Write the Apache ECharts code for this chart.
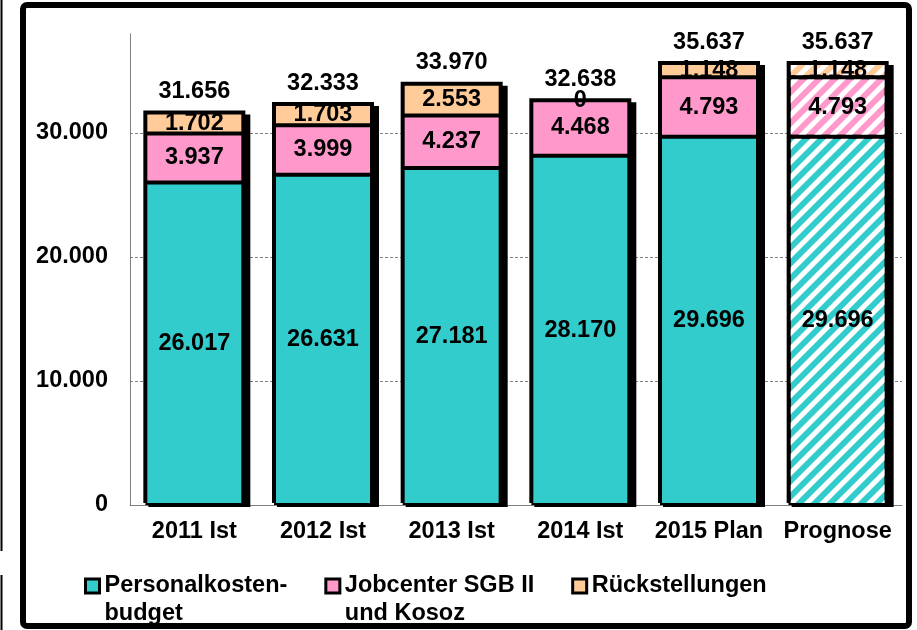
<!DOCTYPE html>
<html>
<head>
<meta charset="utf-8">
<script src="https://cdn.jsdelivr.net/npm/echarts@6/dist/echarts.min.js"></script>
<style>
  html, body { margin: 0; padding: 0; background: #fff; }
  #chart { width: 917px; height: 630px; }
</style>
</head>
<body>
<div id="chart"></div>
<script>
var categories = ['2011 Ist', '2012 Ist', '2013 Ist', '2014 Ist', '2015 Plan', 'Prognose'];
var personal = [26017, 26631, 27181, 28170, 29696, 29696];
var jobcenter = [3937, 3999, 4237, 4468, 4793, 4793];
var rueck = [1702, 1703, 2553, 0, 1148, 1148];
var totals = [31656, 32333, 33970, 32638, 35637, 35637];
var hatched = 5; // Prognose

var font = 'Liberation Sans, Arial, sans-serif';
var fs = 23.5;

function fmt(v) {
    return String(v).replace(/\B(?=(\d{3})+(?!\d))/g, '.');
}

var stripes = {
    symbol: 'rect',
    symbolSize: 1,
    dashArrayX: [1, 0],
    dashArrayY: [5, 6],
    rotation: -Math.PI / 4,
    color: '#ffffff'
};

function withHatch(arr) {
    return arr.map(function (v, i) {
        return i === hatched ? { value: v, itemStyle: { decal: stripes } } : v;
    });
}

var segLabel = {
    show: true,
    position: 'inside',
    color: '#000',
    fontFamily: font,
    fontWeight: 'bold',
    fontSize: fs,
    formatter: function (p) { return fmt(p.value); }
};

function barStyle(color) {
    return { color: color, borderColor: '#000', borderWidth: 2 };
}

var legendNames = {
    'Personalkosten-budget': ' \nPersonalkosten-\nbudget',
    'Jobcenter SGB II und Kosoz': ' \nJobcenter SGB II\nund Kosoz',
    'Rückstellungen': ' \nRückstellungen\n '
};

// hidden helper axes for the outline / drop shadow grids
function helperX(i) {
    return { type: 'category', gridIndex: i, data: categories, show: false };
}
function helperY(i) {
    return { type: 'value', gridIndex: i, min: 0, max: 38000, interval: 10000, show: false };
}

echarts.init(document.getElementById('chart')).setOption({
    animation: false,
    grid: [
        { left: 130, right: 15, top: 33.8, bottom: 125 },
        { left: 130, right: 15, top: 31.8, bottom: 127 },   // black outline, 2px up
        { left: 135, right: 10, top: 35.8, bottom: 123 }    // drop shadow
    ],
    legend: {
        data: ['Personalkosten-budget', 'Jobcenter SGB II und Kosoz', 'Rückstellungen'],
        left: 84,
        top: 544,
        padding: 0,
        itemGap: 37,
        itemWidth: 14,
        itemHeight: 14,
        icon: 'rect',
        itemStyle: { borderColor: '#000', borderWidth: 3 },
        formatter: function (name) { return legendNames[name]; },
        textStyle: {
            color: '#000',
            fontFamily: font,
            fontWeight: 'bold',
            fontSize: fs,
            lineHeight: 28
        }
    },
    xAxis: [
        {
            type: 'category',
            data: categories,
            axisLine: { lineStyle: { color: '#808080', width: 1 } },
            axisTick: { show: false },
            axisLabel: {
                interval: 0,
                color: '#000',
                fontFamily: font,
                fontWeight: 'bold',
                fontSize: fs,
                margin: 15
            }
        },
        helperX(1),
        helperX(2)
    ],
    yAxis: [
        {
            type: 'value',
            min: 0,
            max: 38000,
            interval: 10000,
            axisLine: { show: true, lineStyle: { color: '#808080', width: 1 } },
            axisTick: { show: false },
            axisLabel: {
                color: '#000',
                fontFamily: font,
                fontWeight: 'bold',
                fontSize: fs,
                margin: 22,
                showMaxLabel: false,
                formatter: function (v) { return fmt(v); }
            },
            splitLine: {
                show: true,
                showMaxLine: false,
                lineStyle: { color: '#808080', type: [3, 2], width: 1 }
            }
        },
        helperY(1),
        helperY(2)
    ],
    series: [
        {
            name: 'Rahmen',
            type: 'bar',
            xAxisIndex: 1,
            yAxisIndex: 1,
            z: 1,
            barWidth: 102,
            itemStyle: { color: '#000' },
            silent: true,
            data: totals
        },
        {
            name: 'Schatten',
            type: 'bar',
            xAxisIndex: 2,
            yAxisIndex: 2,
            z: 1,
            barWidth: 102,
            itemStyle: { color: '#000' },
            silent: true,
            data: totals
        },
        {
            name: 'Personalkosten-budget',
            type: 'bar',
            stack: 'total',
            barWidth: 98,
            itemStyle: barStyle('#33CCCC'),
            label: segLabel,
            data: withHatch(personal)
        },
        {
            name: 'Jobcenter SGB II und Kosoz',
            type: 'bar',
            stack: 'total',
            barWidth: 98,
            itemStyle: barStyle('#FF99CC'),
            label: segLabel,
            data: withHatch(jobcenter)
        },
        {
            name: 'Rückstellungen',
            type: 'bar',
            stack: 'total',
            barWidth: 98,
            itemStyle: barStyle('#FFCC99'),
            label: segLabel,
            data: withHatch(rueck)
        },
        {
            name: 'Summe',
            type: 'bar',
            stack: 'total',
            barWidth: 98,
            itemStyle: { color: 'transparent', borderWidth: 0 },
            label: {
                show: true,
                position: 'top',
                distance: 9,
                color: '#000',
                fontFamily: font,
                fontWeight: 'bold',
                fontSize: fs,
                formatter: function (p) { return fmt(totals[p.dataIndex]); }
            },
            data: totals.map(function () { return 0; })
        }
    ],
    graphic: [
        {
            type: 'rect',
            z: 100,
            shape: { x: 23, y: 5, width: 886, height: 621, r: 4 },
            style: { fill: 'none', stroke: '#000', lineWidth: 6 }
        },
        {
            type: 'line',
            z: 100,
            shape: { x1: 1.5, y1: 0, x2: 1.5, y2: 551 },
            style: { stroke: '#000', lineWidth: 2 }
        },
        {
            type: 'line',
            z: 100,
            shape: { x1: 1.5, y1: 575, x2: 1.5, y2: 630 },
            style: { stroke: '#000', lineWidth: 2 }
        }
    ]
});
</script>
</body>
</html>
